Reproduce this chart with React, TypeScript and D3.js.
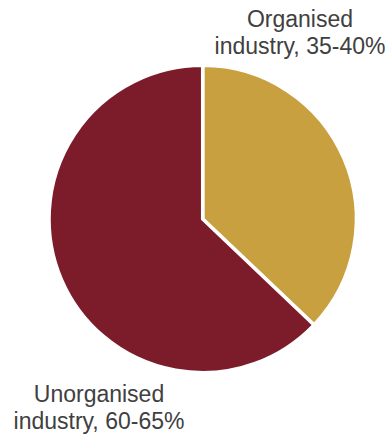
import React from "react";
import * as d3 from "d3";

const categories = ["Organised industry, 35-40%", "Unorganised industry, 60-65%"];
const values = [37.1, 62.9];
const colors = ["#c9a03f", "#7c1c2a"];
const labelLines = [["Organised", "industry, 35-40%"], ["Unorganised", "industry, 60-65%"]];

export default function App() {
  const W = 391, H = 437;
  const cx = 202.7, cy = 219, r = 153.7;
  const pie = d3.pie<number>().sort(null).value((d) => d)(values);
  const arc = d3.arc<d3.PieArcDatum<number>>().innerRadius(0).outerRadius(r);
  const labelPos = [
    { x: 300, y: 27 },
    { x: 99, y: 402 },
  ];
  return (
    <svg width={W} height={H} style={{ position: "absolute", left: 0, top: 0 }}>
      <g transform={`translate(${cx},${cy})`}>
        {pie.map((p, i) => (
          <path key={categories[i]} d={arc(p) || ""} fill={colors[i]} stroke="#fff" strokeWidth={3.5} strokeLinejoin="miter" />
        ))}
      </g>
      {labelLines.map((lines, i) => (
        <text key={i} x={labelPos[i].x} y={labelPos[i].y} textAnchor="middle" fontFamily="Liberation Sans, Arial, sans-serif" fontSize={23} fill="#404040">
          {lines.map((l, j) => (
            <tspan key={j} x={labelPos[i].x} dy={j === 0 ? 0 : 27}>{l}</tspan>
          ))}
        </text>
      ))}
    </svg>
  );
}
